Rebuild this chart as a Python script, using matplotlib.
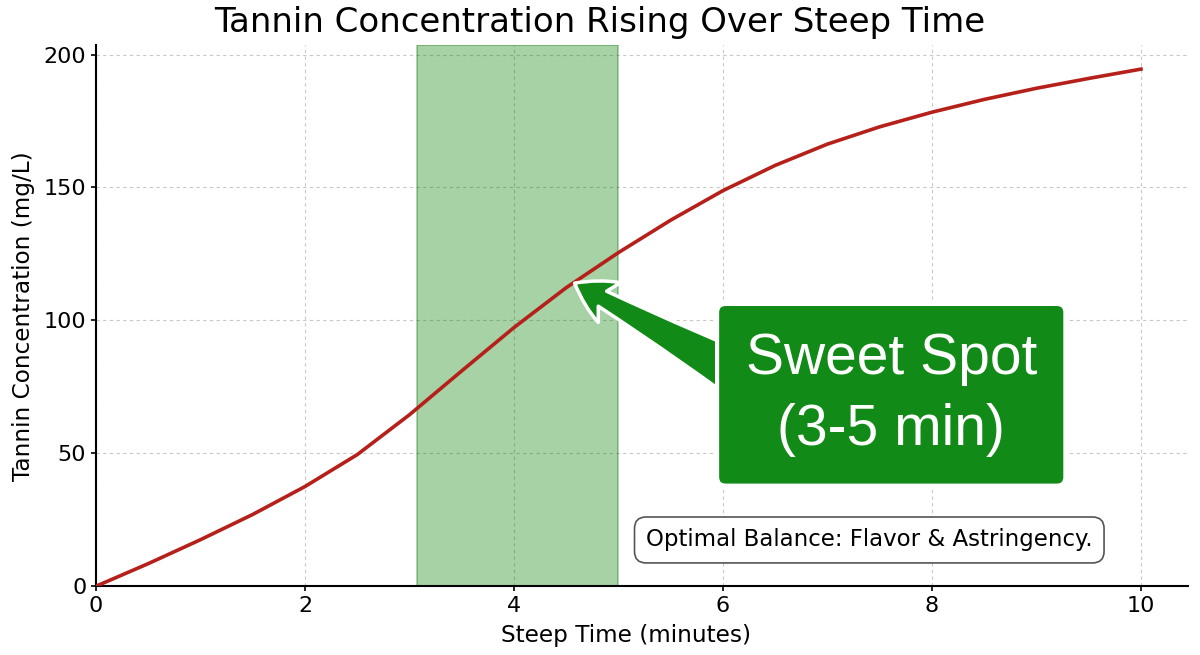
import numpy as np
import matplotlib.pyplot as plt

# steep time (minutes) and tannin concentration (mg/L)
time_min = [0, 0.5, 1, 1.5, 2, 2.5, 3, 3.5, 4, 4.5, 5, 5.5, 6, 6.5, 7, 7.5, 8, 8.5, 9, 9.5, 10]
tannin = [0, 8.5, 17.5, 27.0, 37.5, 49.5, 64.5, 81.0, 97.3, 112.3, 125.5, 137.7, 148.8,
          158.3, 166.3, 172.8, 178.3, 183.1, 187.3, 191.0, 194.5]

sweet_start = 3.07
sweet_end = 5.0
arrow_tip = (4.58, 114)

fig = plt.figure(figsize=(12, 6.55), dpi=100)
ax = fig.add_axes([0.08, 0.105, 0.91, 0.826])

ax.axvspan(sweet_start, sweet_end, facecolor="green", alpha=0.35,
           edgecolor="darkgreen", linewidth=1.2, zorder=1)
ax.plot(time_min, tannin, color="#b5211a", linewidth=2.6, zorder=3,
        solid_joinstyle="round")

ax.set_xlim(0, 10.45)
ax.set_ylim(0, 203.5)
ax.set_xticks([0, 2, 4, 6, 8, 10])
ax.set_yticks([0, 50, 100, 150, 200])
ax.grid(True, linestyle=(0, (3, 3)), color="#c8c8c8", linewidth=0.8, zorder=0)
ax.set_axisbelow(True)
for s in ["top", "right"]:
    ax.spines[s].set_visible(False)
for s in ["left", "bottom"]:
    ax.spines[s].set_linewidth(1.5)
ax.tick_params(labelsize=16, width=1.2)

ax.set_xlabel("Steep Time (minutes)", fontsize=16.7)
ax.xaxis.set_label_coords(0.485, -0.07)
ax.set_ylabel("Tannin Concentration (mg/L)", fontsize=16.7, labelpad=6)
fig.text(0.5, 0.966, "Tannin Concentration Rising Over Steep Time",
         ha="center", va="center", fontsize=24.5)

ax.annotate("Sweet Spot\n(3-5 min)", xy=arrow_tip, xytext=(7.61, 72),
            ha="center", va="center", fontsize=41, color="white",
            family="Liberation Sans", linespacing=1.4, zorder=5,
            bbox=dict(boxstyle="round,pad=0.5,rounding_size=0.15",
                      facecolor="#128a17", edgecolor="white", linewidth=3),
            arrowprops=dict(arrowstyle="fancy,head_length=0.7,head_width=0.8,tail_width=1.0",
                            facecolor="#128a17", edgecolor="white", linewidth=2.5,
                            relpos=(0.1, 0.5), patchA=None, shrinkA=0, shrinkB=0))

ax.text(7.40, 17.4, "Optimal Balance: Flavor & Astringency.", ha="center", va="center",
        fontsize=16.5, zorder=5,
        bbox=dict(boxstyle="round,pad=0.5", facecolor="white", edgecolor="#555555",
                  linewidth=1.2))

fig.savefig("out.png", dpi=100)
